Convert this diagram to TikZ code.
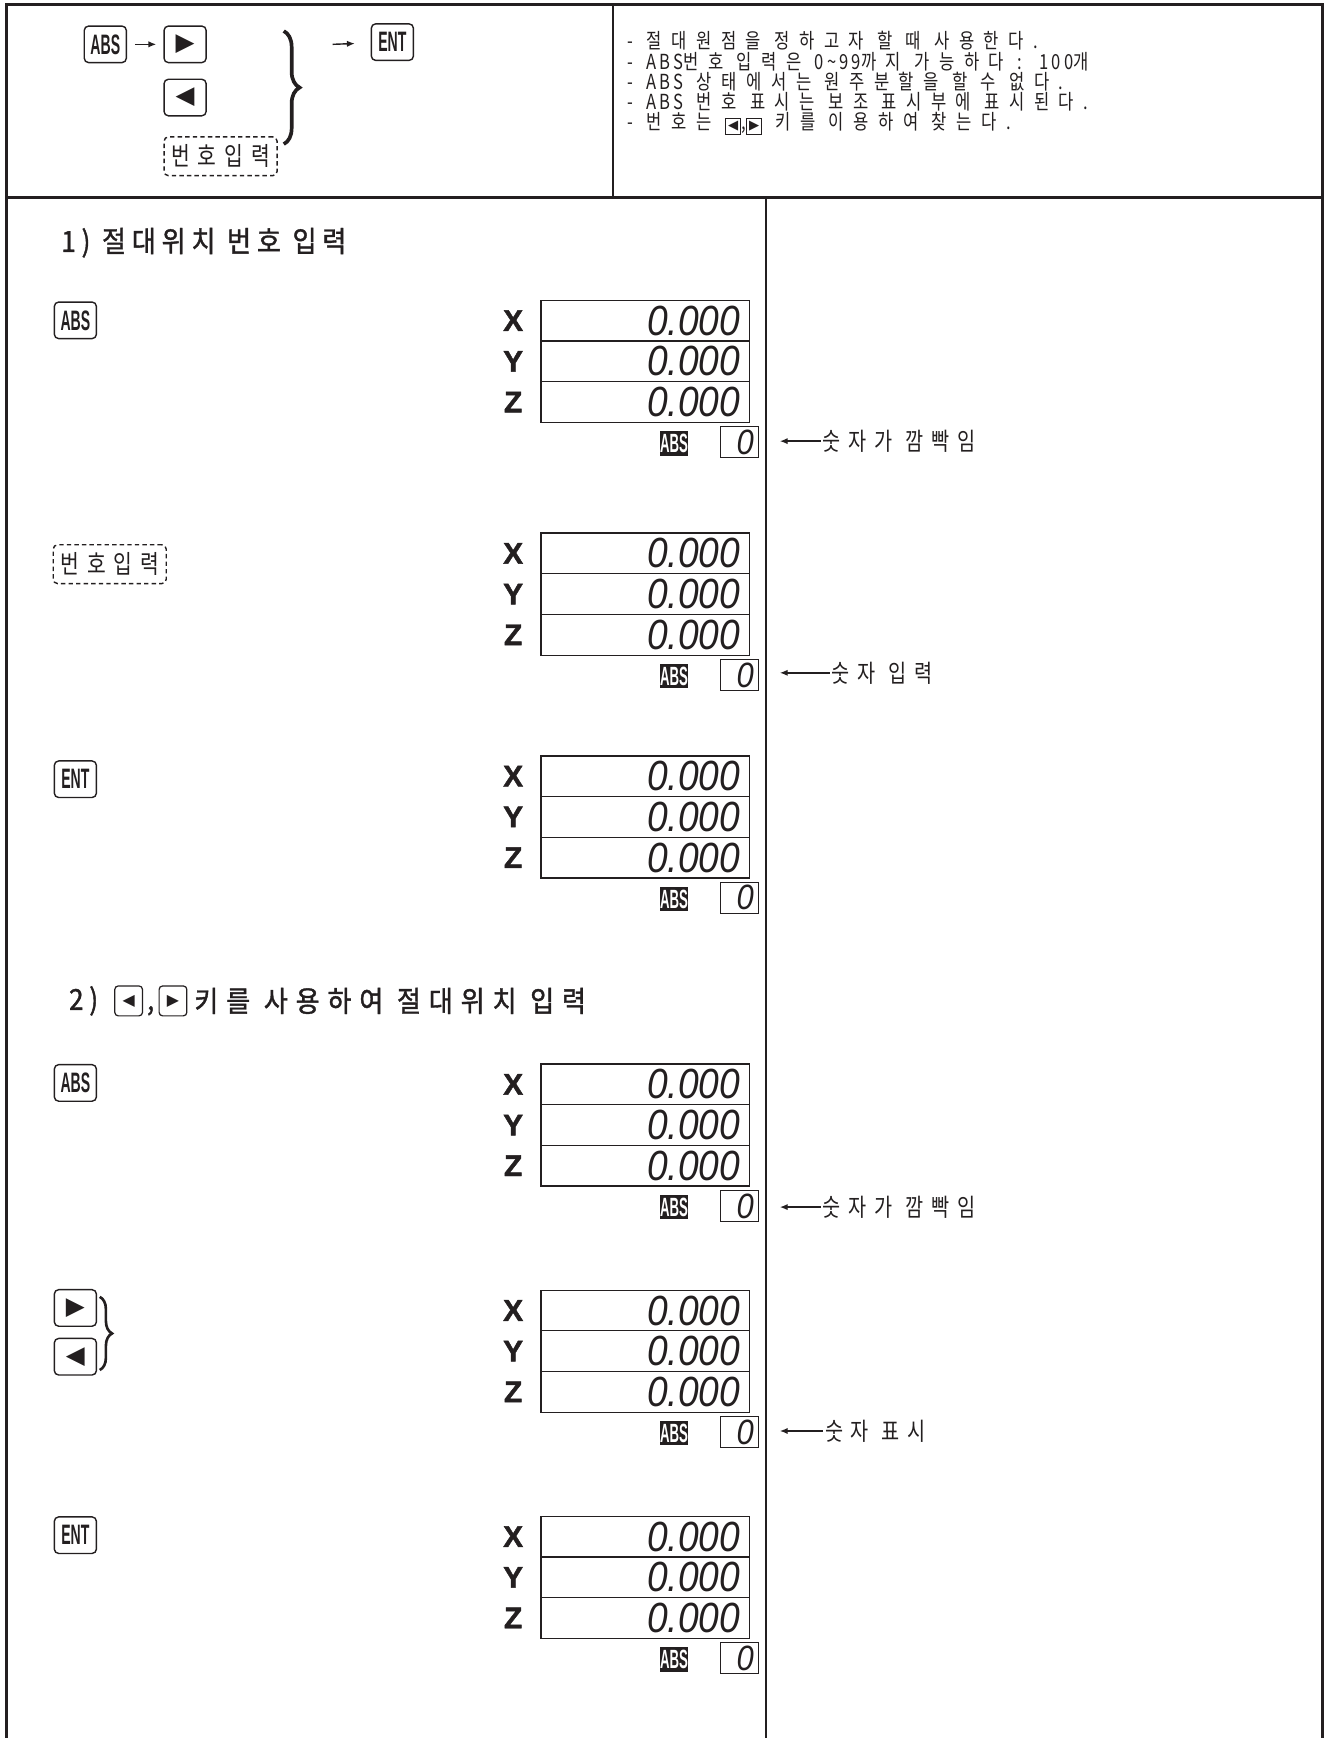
\documentclass[tikz,border=0pt]{standalone}
\usepackage{fontspec}
\usetikzlibrary{positioning,arrows.meta,decorations.pathreplacing}
\definecolor{ink}{HTML}{231F20}
\newfontfamily\krfont{Noto Sans CJK KR}[FakeStretch=0.8]
\newfontfamily\krhead{Noto Sans CJK KR}[FakeStretch=0.9, FakeBold=1.3]
\newfontfamily\keyfont{Liberation Sans}[FakeStretch=0.5]
\newfontfamily\segfont{Liberation Sans}[FakeStretch=0.88]
\newfontfamily\axisfont{Liberation Sans}[FakeBold=1.5]
\newfontfamily\symfont{DejaVu Sans}
\newcommand\unitpx{0.022167cm}
\newcommand\lat[1]{{\addfontfeature{LetterSpace=15}#1}}
\newcommand\boxtri[1]{{\setlength\fboxsep{1.3pt}\setlength\fboxrule{0.5pt}\fbox{\symfont\fontsize{7.5}{7.5}\selectfont #1}}}

\begin{document}
\begin{tikzpicture}[x=0.022167cm, y=-0.022167cm,
		frame/.style={draw=ink, line width=1.6pt},
		key/.style={
			draw=ink, line width=0.8pt,
			rounded corners=2.5pt,
			inner sep=0pt,
			minimum width=38*\unitpx,
			minimum height=33*\unitpx,
			text=ink,
			font=\keyfont\bfseries\fontsize{16}{16}\selectfont},
		trikey/.style={key, font=\symfont\fontsize{14}{14}\selectfont},
		minikey/.style={
			draw=ink, line width=0.7pt,
			rounded corners=2pt,
			inner sep=0pt,
			minimum width=25*\unitpx,
			minimum height=27*\unitpx,
			text=ink,
			font=\symfont\fontsize{9}{9}\selectfont},
		numin/.style={
			draw=ink, line width=0.8pt,
			dash pattern=on 2.5pt off 1.8pt,
			rounded corners=2.5pt,
			inner sep=0pt,
			minimum width=102*\unitpx,
			minimum height=35*\unitpx,
			text=ink,
			font=\krfont\fontsize{14.5}{14.5}\selectfont\addfontfeature{LetterSpace=31}},
		row/.style={
			draw=ink, line width=0.7pt,
			inner sep=0pt, outer sep=0pt,
			minimum width=188*\unitpx,
			minimum height=36.7*\unitpx},
		digits/.style={inner sep=0pt, text=ink, font=\segfont\itshape\fontsize{24}{24}\selectfont},
		axis/.style={inner sep=0pt, text=ink, font=\axisfont\bfseries\fontsize{17}{17}\selectfont},
		flag/.style={
			fill=ink, text=white,
			inner sep=0pt,
			minimum width=26*\unitpx,
			minimum height=22*\unitpx,
			font=\keyfont\bfseries\fontsize{15}{15}\selectfont},
		subbox/.style={
			draw=ink, line width=0.7pt,
			inner ysep=0pt, inner xsep=2.5pt,
			text width=26*\unitpx, align=right,
			minimum height=28*\unitpx,
			text=ink,
			font=\segfont\itshape\fontsize{20}{20}\selectfont},
		note/.style={anchor=west, inner sep=0pt, text=ink,
			font=\krfont\fontsize{14}{14}\selectfont\addfontfeature{LetterSpace=32}},
		title/.style={inner sep=0pt, text=ink,
			font=\krhead\fontsize{16.5}{16.5}\selectfont\addfontfeature{LetterSpace=20}},
		arr/.style={draw=ink, line width=0.8pt, -{Latex[length=4.5pt,width=3.6pt]}},
		bigbrace/.style={draw=ink, line width=2.1pt, decorate, decoration={brace, amplitude=9pt}},
		smallbrace/.style={draw=ink, line width=1.5pt, decorate, decoration={brace, amplitude=7pt}}]

	\useasboundingbox (0,0) rectangle (1200,1568);

	% frame
	\draw [frame] (6,1568) -- (6,4) -- (1193,4) -- (1193,1568);
	\draw [frame] (6,178) -- (1193,178);
	\draw [frame] (553,4) -- (553,178);
	\draw [draw=ink, line width=0.8pt] (691,178) -- (691,1568);

	% header, left
	\node (abs0) [key] at (95,40) {ABS};
	\node (right0) [trikey] at (167,40) {▶};
	\node (left0) [trikey] at (167,88) {◀};
	\node (num0) [numin] at (199,141) {번호입력};
	\node (ent0) [key] at (354,38) {ENT};
	\coordinate (bracetop0) at (256,28);
	\coordinate (bracebot0) at (256,130);
	\coordinate (braceout0) at (300,40);
	\draw [bigbrace] (bracetop0) -- (bracebot0);
	\draw [arr, shorten <=4.5pt, shorten >=4pt] (abs0) -- (right0);
	\draw [arr, shorten >=9pt] (braceout0) -- (ent0);

	% header, right
	\node (info) [anchor=west, inner sep=0pt, align=left, text=ink,
		font=\krfont\fontsize{11.8}{11.5}\selectfont\addfontfeature{LetterSpace=46}] at (566,75)
		{- 절대원점을 정하고자 할 때 사용한다.\\
		 - \lat{ABS}번호 입력은 \lat{0\textasciitilde 99}까지 가능하다 \lat{:} \lat{100}개\\
		 - \lat{ABS} 상태에서는 원주분할을 할 수 없다.\\
		 - \lat{ABS} 번호 표시는 보조 표시부에 표시된다.\\
		 - 번호는 \boxtri{◀},\boxtri{▶} 키를 이용하여 찾는다.};

	% 1)
	\node (title1) [title, anchor=west] at (55,219) {1) 절대위치 번호 입력};
	\node (abs1) [key] at (68,289) {ABS};
	\node (num2) [numin] at (99,509) {번호입력};
	\node (ent3) [key] at (68,703) {ENT};

	% 2)
	\node (title2) [title, anchor=west] at (62,903) {2)};
	\node (t2left) [minikey, anchor=west] at (103,903) {◀};
	\node (t2comma) [title, anchor=base west, xshift=2pt] at (t2left.east |- title2.base) {,};
	\node (t2right) [minikey, anchor=west] at (143,903) {▶};
	\node (t2text) [title, anchor=west] at (175,903) {\addfontfeature{LetterSpace=27}키를 사용하여 절대위치 입력};
	\node (abs4) [key] at (68,977) {ABS};
	\node (right5) [trikey] at (68,1180) {▶};
	\node (left5) [trikey] at (68,1224) {◀};
	\coordinate (bracetop5) at (90,1170);
	\coordinate (bracebot5) at (90,1236);
	\draw [smallbrace] (bracetop5) -- (bracebot5);
	\node (ent6) [key] at (68,1385) {ENT};

	% displays
	\foreach \t/\n in {271/1,481/2,682/3,960/4,1164/5,1368/6} {
		\node (x\n) [row] at (582,\t+18.3) {};
		\node (y\n) [row, below=0pt of x\n] {};
		\node (z\n) [row, below=0pt of y\n] {};
		\foreach \r/\a in {x/X,y/Y,z/Z} {
			\node (d\r\n) [digits, anchor=east] at ([xshift=-5pt]\r\n.east) {0.000};
			\node (l\r\n) [axis] at ([xshift=-15.8pt]\r\n.west) {\a};
		}
		\node (flag\n) [flag] at (608,\t+129) {ABS};
		\node (sub\n) [subbox] at (667,\t+128) {0};
	}

	% notes
	\node (note1) [note] at (742,398) {숫자가\enspace 깜빡임};
	\node (note2) [note] at (750,607) {숫자\enspace 입력};
	\node (note4) [note] at (742,1089) {숫자가\enspace 깜빡임};
	\node (note5) [note] at (744,1291) {숫자 표시};
	\foreach \n in {1,2,4,5}
		\draw [arr, shorten <=1pt, shorten >=12pt] (note\n.west) -- (note\n.west -| sub\n.east);
\end{tikzpicture}
\end{document}
